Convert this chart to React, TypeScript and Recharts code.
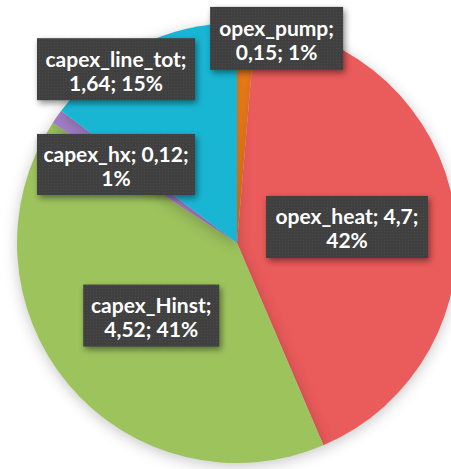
import React from "react";
import { PieChart, Pie, Cell } from "recharts";

const categories = ["opex_pump", "opex_heat", "capex_Hinst", "capex_hx", "capex_line_tot"];
const values = [0.15, 4.7, 4.52, 0.12, 1.64];
const colors = ["#F7801A", "#EA5B5B", "#9DC35D", "#A07EC4", "#19B6D4"];
// how the label text wraps: "name" = break after name, "value" = break after value
const labelBreaks = ["name", "value", "name", "value", "name"];
// label box placement (offset from pie centre as fraction of radius) and box size
const labelOffsets = [
  [0.18, -0.93],
  [0.5, -0.073],
  [-0.39, 0.33],
  [-0.55, -0.357],
  [-0.55, -0.79],
];
const labelSizes = [
  [133, 63],
  [162, 62],
  [136, 62],
  [158, 61],
  [158, 62],
];

const data = categories.map((name, i) => ({ name, value: values[i] }));
const total = values.reduce((a, b) => a + b, 0);

const fmt = (v: number) => String(v).replace(".", ",");

const renderLabel = (props: any) => {
  const { cx, cy, outerRadius, index } = props;
  const name = categories[index];
  const v = values[index];
  const pct = Math.round((v / total) * 100) + "%";
  const [fx, fy] = labelOffsets[index];
  const [w, h] = labelSizes[index];
  const x = cx + fx * outerRadius;
  const y = cy + fy * outerRadius;
  let l1: string, l2: string;
  if (labelBreaks[index] === "name") {
    l1 = name + ";";
    l2 = fmt(v) + "; " + pct;
  } else {
    l1 = name + "; " + fmt(v) + ";";
    l2 = pct;
  }
  const textProps = {
    textAnchor: "middle" as const,
    dominantBaseline: "central" as const,
    fill: "#ffffff",
    fontFamily: "Lato, 'Open Sans', sans-serif",
    fontWeight: 700,
    fontSize: 21,
  };
  return (
    <g key={"lbl" + index}>
      <rect
        x={x - w / 2}
        y={y - h / 2}
        width={w}
        height={h}
        fill="#404040"
        style={{ filter: "drop-shadow(2px 3px 3px rgba(0,0,0,0.45))" }}
      />
      <rect x={x - w / 2} y={y - h / 2} width={w} height={h} fill="url(#dots)" />
      <text x={x} y={y - 11} {...textProps}>
        {l1}
      </text>
      <text x={x} y={y + 13} {...textProps}>
        {l2}
      </text>
    </g>
  );
};

export default function App() {
  return (
    <div style={{ position: "absolute", left: 0, top: 0, width: 451, height: 469, background: "#ffffff" }}>
      <style>{`.recharts-pie-sector path { filter: drop-shadow(0px 3px 7px rgba(0,0,0,0.22)); }`}</style>
      <svg width={0} height={0} style={{ position: "absolute" }}>
        <defs>
          <pattern id="dots" width="3" height="3" patternUnits="userSpaceOnUse">
            <rect x="0" y="0" width="1" height="1" fill="rgba(255,255,255,0.06)" />
          </pattern>
        </defs>
      </svg>
      <PieChart width={451} height={469} margin={{ top: 0, right: 0, bottom: 0, left: 0 }}>
        <Pie
          data={data}
          dataKey="value"
          nameKey="name"
          cx={237}
          cy={243}
          outerRadius={220}
          startAngle={90}
          endAngle={-270}
          stroke="none"
          label={renderLabel}
          labelLine={false}
          isAnimationActive={false}
        >
          {data.map((d, i) => (
            <Cell key={d.name} fill={colors[i]} />
          ))}
        </Pie>
      </PieChart>
    </div>
  );
}
